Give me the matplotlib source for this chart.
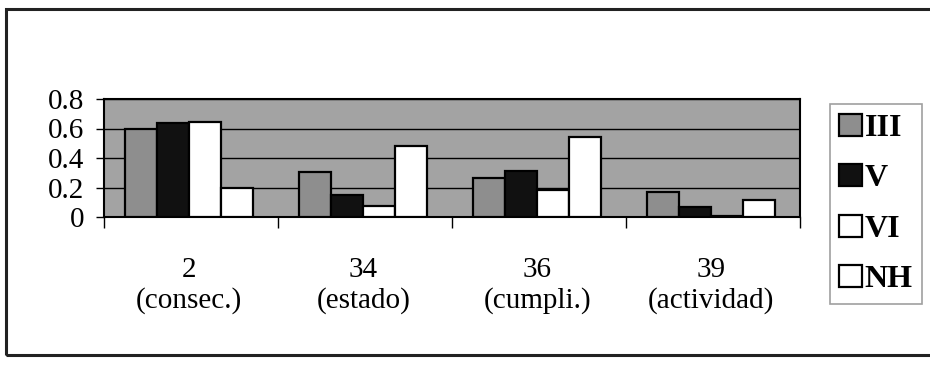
import numpy as np
import matplotlib
matplotlib.use('Agg')
import matplotlib.pyplot as plt
from matplotlib.patches import Patch, Rectangle

categories = ['2\n(consec.)', '34\n(estado)', '36\n(cumpli.)', '39\n(actividad)']
series = ['III', 'V', 'VI', 'NH']
vals_III = [0.60, 0.305, 0.265, 0.17]
vals_V = [0.64, 0.15, 0.31, 0.07]
vals_VI = [0.645, 0.075, 0.18, 0.01]
vals_NH = [0.20, 0.48, 0.54, 0.115]

colors = ['#8e8e8e', '#111111', '#ffffff', '#ffffff']

plt.rcParams['font.family'] = ['Liberation Serif', 'DejaVu Serif']

fig = plt.figure(figsize=(9.3, 3.65), dpi=100)
ax = fig.add_axes([104/930, (365-217)/365, 696/930, 118/365])
ax.set_facecolor('#a3a3a3')

x = np.arange(len(categories)) + 0.49
w = 0.184
allv = [vals_III, vals_V, vals_VI, vals_NH]
for i, (v, c) in enumerate(zip(allv, colors)):
    ax.bar(x + (i - 1.5) * w, v, w, color=c, edgecolor='black', linewidth=1.6, zorder=3)

ax.set_xlim(0, 4)
ax.set_ylim(0, 0.8)
ax.set_yticks([0, 0.2, 0.4, 0.6, 0.8])
ax.set_yticklabels(['0', '0.2', '0.4', '0.6', '0.8'], fontsize=21)
ax.yaxis.grid(True, color='black', linewidth=1.0, zorder=1)
ax.set_axisbelow(True)
ax.tick_params(axis='y', length=6, width=1, pad=8, direction='out')

ax.set_xticks([0, 1, 2, 3, 4])
ax.set_xticklabels([])
ax.set_xticks(x, minor=True)
ax.set_xticklabels(categories, minor=True, fontsize=21, linespacing=1.2)
ax.tick_params(axis='x', which='major', length=8, width=1, direction='out')
ax.tick_params(axis='x', which='minor', length=0, pad=29)
for s in ax.spines.values():
    s.set_linewidth(1.5)

handles = [Patch(facecolor=c, edgecolor='black', linewidth=1.6) for c in colors]
leg = fig.legend(handles, series, loc='center', bbox_to_anchor=(876/930, (365-204)/365),
                 prop={'family': 'Liberation Serif', 'weight': 'bold', 'size': 23},
                 handlelength=0.7, handleheight=0.7, handletextpad=0.1,
                 labelspacing=0.66, borderpad=0.3, fancybox=False, frameon=True)
leg.get_frame().set_edgecolor('#888888')
leg.get_frame().set_linewidth(1.2)

# outer frame
fig.patches.append(Rectangle((6/930, 10/365), 1.0, (355-9)/365, transform=fig.transFigure,
                             fill=False, edgecolor='#222222', linewidth=2.2))

fig.savefig('out.png', dpi=100, facecolor='white')
